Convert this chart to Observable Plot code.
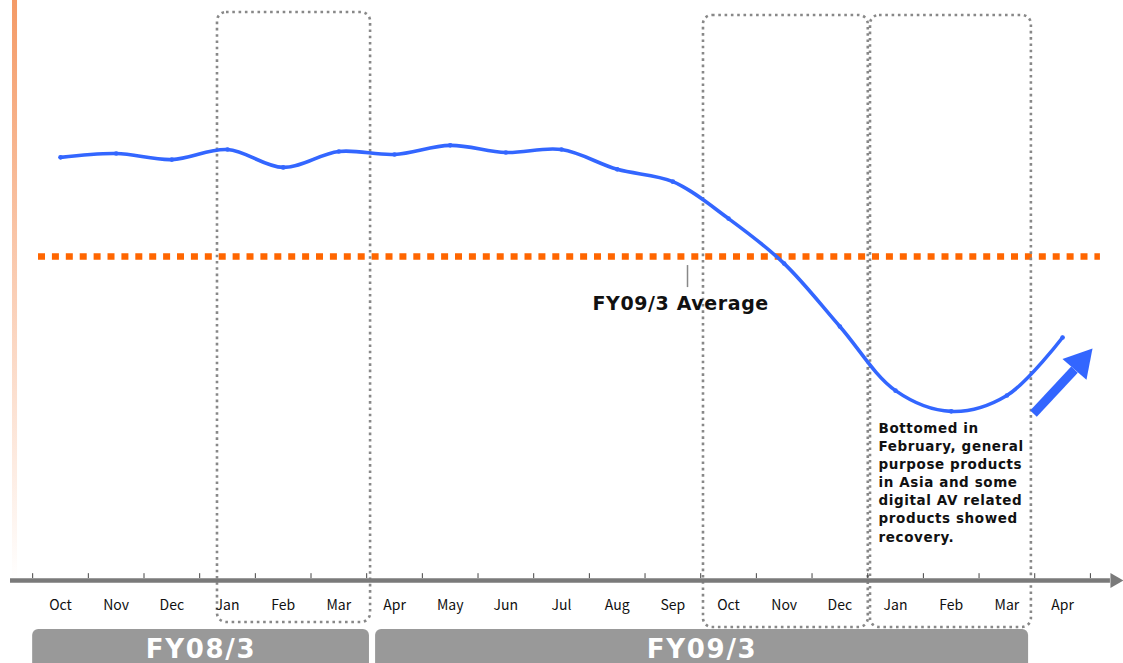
<!DOCTYPE html>
<html>
<head>
<meta charset="utf-8">
<script src="https://cdn.jsdelivr.net/npm/d3@7"></script>
<script src="https://cdn.jsdelivr.net/npm/@observablehq/plot@0.6"></script>
<style>
  html, body { margin: 0; padding: 0; background: #fff; }
  #chart { width: 1123px; height: 663px; overflow: hidden; }
</style>
</head>
<body>
<div id="chart"></div>
<script>
// ---- data ----
const months = ["Oct","Nov","Dec","Jan","Feb","Mar","Apr","May","Jun","Jul","Aug","Sep","Oct","Nov","Dec","Jan","Feb","Mar","Apr"];
const salesIndex = [130.6,131.8,129.9,133.0,127.5,132.4,131.5,134.3,132.1,133.0,126.9,123.1,111.7,97.8,78.4,58.6,52.2,57.1,75.0];
const fy09Average = 100;
const averageLabel = "FY09/3 Average";
const fiscalYears = ["FY08/3", "FY09/3"];
const fyStart = [-0.5, 5.66];
const fyEnd = [5.55, 17.39];
const boxStart = [2.82, 11.55, 14.55];
const boxEnd = [5.57, 14.51, 17.44];
const boxTop = [175.3, 174.4, 174.4];
const boxBottom = [-12.96, -14.5, -14.5];
const noteText = "Bottomed in\nFebruary, general\npurpose products\nin Asia and some\ndigital AV related\nproducts showed\nrecovery.";
const trendArrow = {x1: 17.478, y1: 51.5, x2: 18.215, y2: 65.1, hx: 18.322, hy: 67.3};

// ---- derived tables ----
const series = months.map((m, i) => ({i, month: m, value: salesIndex[i]}));
const boundaries = d3.range(months.length + 1).map(i => i - 0.5);
const fyTable = fiscalYears.map((n, k) => ({name: n, x1: fyStart[k], x2: fyEnd[k]}));
const boxes = boxStart.map((s, k) => ({x1: s, x2: boxEnd[k], y1: boxBottom[k], y2: boxTop[k]}));

const blue = "#3366ff";
const gray = "#7a7a7a";

const chart = Plot.plot({
  width: 1123,
  height: 663,
  marginTop: 0, marginRight: 0, marginBottom: 0, marginLeft: 0,
  x: {domain: [-1.0778, 19.0947], axis: null},
  y: {domain: [-25.62, 179.01], axis: null},
  style: {background: "#fff", overflow: "visible"},
  marks: [
    // left decorative strip
    Plot.rect([{x1: -0.862, x2: -0.772, y1: 0, y2: 179.01}], {x1: "x1", x2: "x2", y1: "y1", y2: "y2", fill: "url(#edgeGrad)"}),
    // average dotted line
    Plot.ruleY([fy09Average], {x1: -0.395, x2: 18.68, stroke: "#ff6600", strokeWidth: 6.5, strokeDasharray: "7 6.9"}),
    // highlight boxes
    Plot.rect(boxes, {x1: "x1", x2: "x2", y1: "y1", y2: "y2", fill: "none", stroke: "#888", strokeWidth: 2.6, strokeDasharray: "2.6 3.7", rx: 9}),
    // axis line + arrowhead
    Plot.ruleY([0], {x1: -0.898, x2: 18.86, stroke: gray, strokeWidth: 4.5}),
    Plot.dot([{x: 18.938, y: 0}], {x: "x", y: "y", symbol: "triangle", r: 5.6, rotate: 90, fill: gray, stroke: "none"}),
    // tick marks
    Plot.ruleX(boundaries, {y1: 0.6, y2: 2.1, stroke: "#444", strokeWidth: 1}),
    // month labels
    Plot.text(series, {x: "i", y: -7.72, text: "month", fontFamily: "'Noto Sans CJK JP', sans-serif", fontSize: 14, fill: "#111"}),
    // fiscal year bars
    Plot.rect(fyTable, {x1: "x1", x2: "x2", y1: -27.8, y2: -15.1, fill: "#999", rx: 6}),
    Plot.text(fyTable, {x: d => (d.x1 + d.x2) / 2, y: -21.3, text: "name", fill: "#fff", fontFamily: "'DejaVu Sans', sans-serif", fontWeight: "bold", fontSize: 26}),
    // average label
    Plot.ruleX([11.263], {y1: 90.4, y2: 97.2, stroke: "#888", strokeWidth: 1.5}),
    Plot.text([averageLabel], {x: 11.14, y: 85.5, text: d => d, fontFamily: "'DejaVu Sans', sans-serif", fontWeight: "bold", fontSize: 19, fill: "#111"}),
    // sales line
    Plot.line(series, {x: "i", y: "value", stroke: blue, strokeWidth: 3.6, curve: "catmull-rom"}),
    Plot.dot(series, {x: "i", y: "value", r: 2.3, fill: blue, stroke: "none"}),
    // note
    Plot.text([noteText], {x: 14.694, y: 30.6, text: d => d, textAnchor: "start", lineAnchor: "middle", lineHeight: 1.345, fontFamily: "'DejaVu Sans', sans-serif", fontWeight: "bold", fontSize: 13.5, fill: "#111"}),
    // trend arrow
    Plot.link([trendArrow], {x1: "x1", y1: "y1", x2: "x2", y2: "y2", stroke: blue, strokeWidth: 9, strokeLinecap: "butt"}),
    Plot.dot([trendArrow], {x: "hx", y: "hy", symbol: "triangle", r: 11.8, rotate: 41, fill: blue, stroke: "none"})
  ]
});

// letter spacing (not a Plot text option): applied to the rendered text nodes
d3.select(chart).selectAll("text").each(function() {
  const t = this.textContent;
  if (fiscalYears.includes(t)) this.style.letterSpacing = "1.7px";
  else if (t === averageLabel) this.style.letterSpacing = "0.6px";
  else if (t.startsWith("Bottomed")) this.style.letterSpacing = "0.6px";
});

// gradient for the left decorative strip
const ns = "http://www.w3.org/2000/svg";
const defs = document.createElementNS(ns, "defs");
defs.innerHTML = '<linearGradient id="edgeGrad" x1="0" y1="0" x2="0" y2="1">' +
  '<stop offset="0" stop-color="#f49a66"/>' +
  '<stop offset="0.4" stop-color="#f9c4a6"/>' +
  '<stop offset="1" stop-color="#ffffff"/></linearGradient>';
chart.insertBefore(defs, chart.firstChild);

document.getElementById("chart").appendChild(chart);
</script>
</body>
</html>
